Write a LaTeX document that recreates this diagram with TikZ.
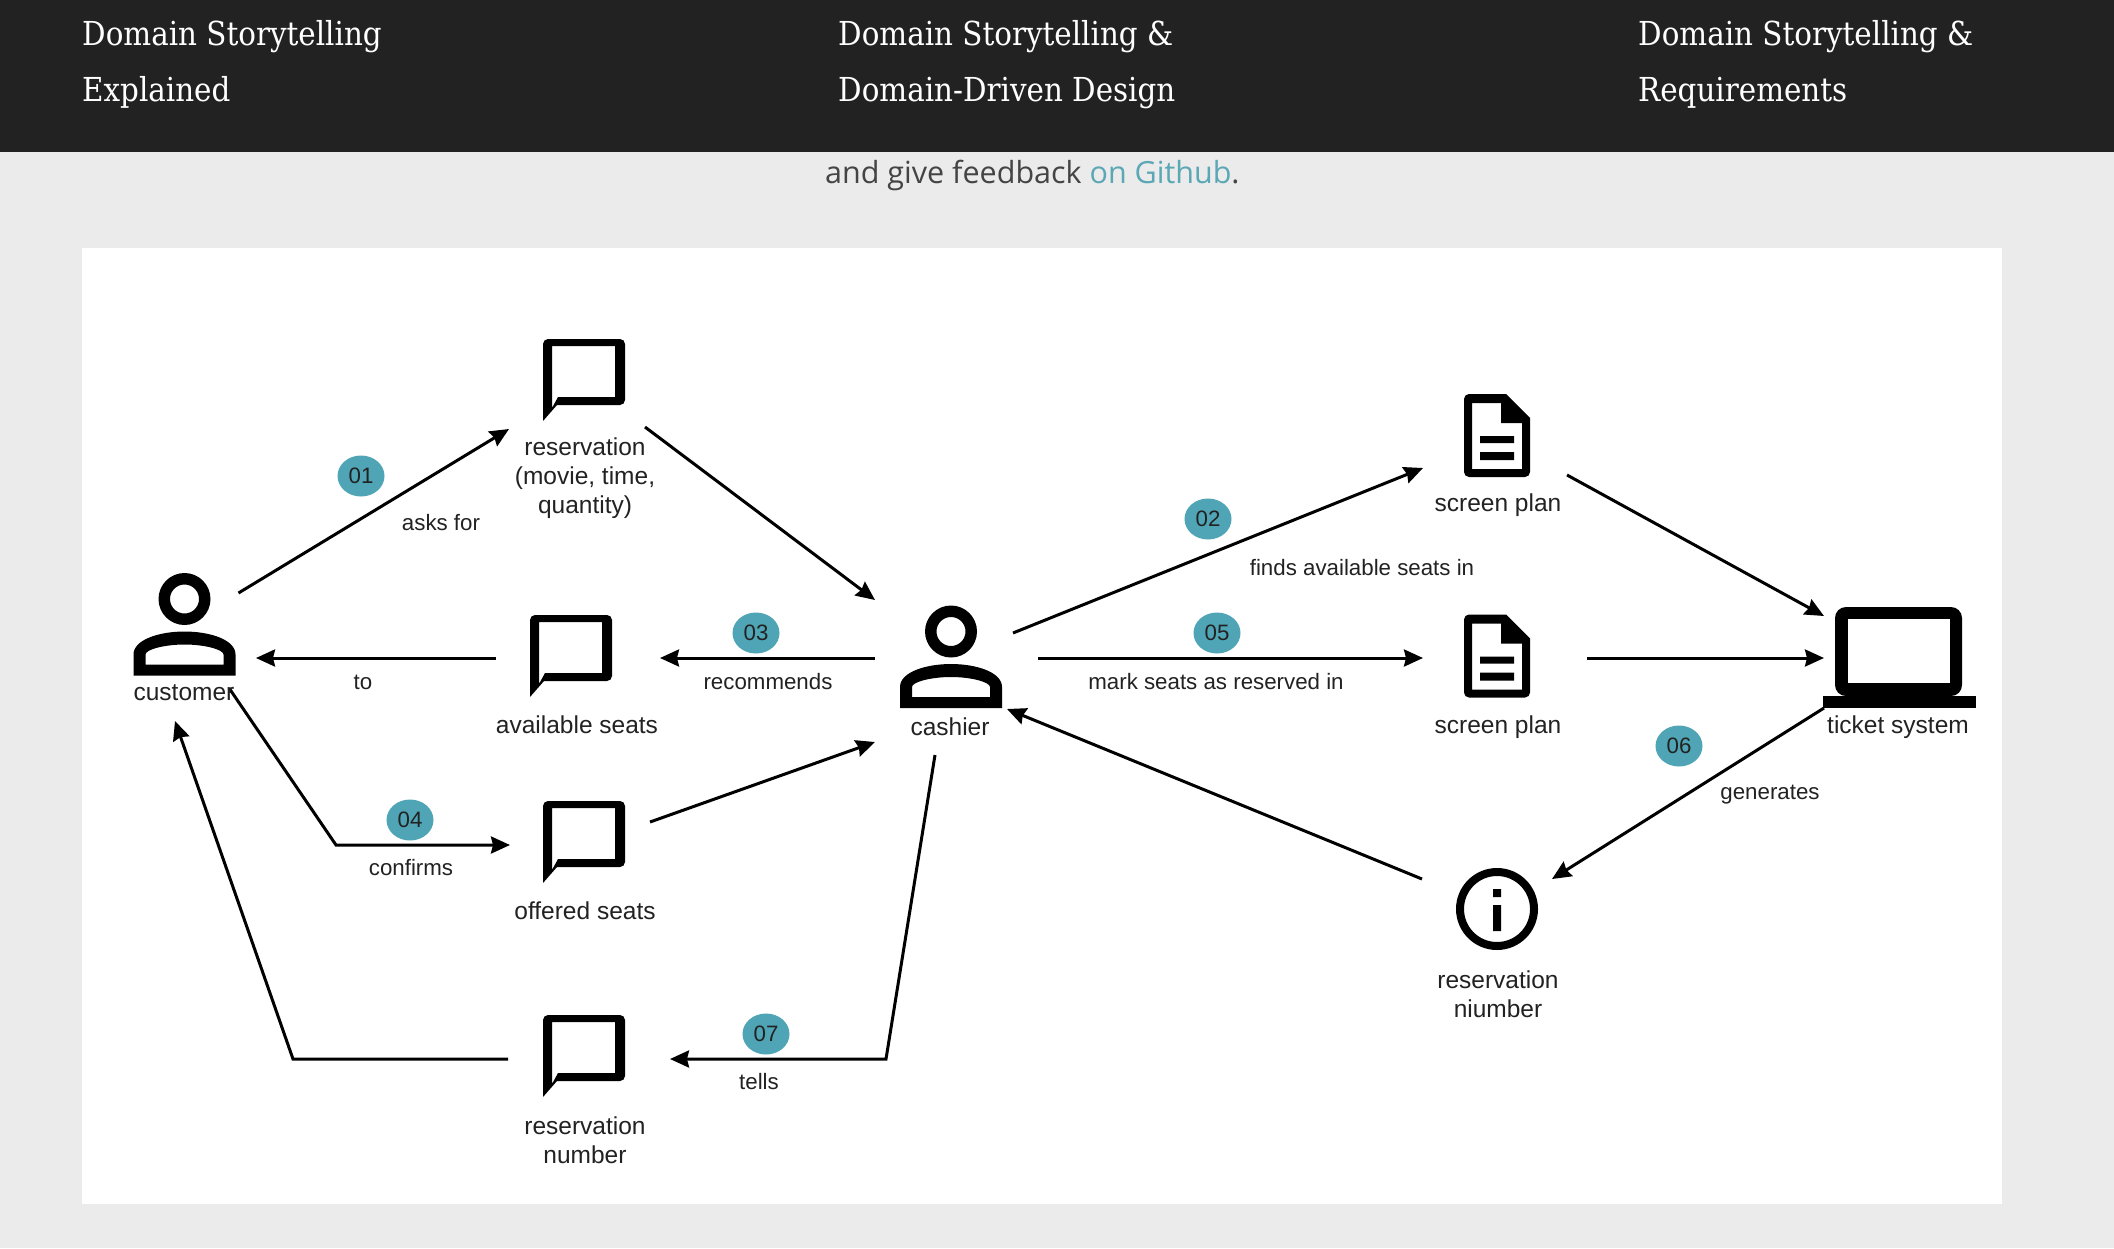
\documentclass[tikz,border=0pt]{standalone}
\usepackage{fontspec}
\usetikzlibrary{arrows.meta,shapes.geometric}
\setmainfont{Liberation Sans}
\newfontfamily\hdrfont[FakeStretch=0.89]{DejaVu Serif}
\newfontfamily\bodyfont{Open Sans}
\definecolor{headbg}{HTML}{222222}
\definecolor{pagebg}{HTML}{EBEBEB}
\definecolor{tealc}{HTML}{4FA5B5}
\definecolor{linkc}{HTML}{5AA7B5}
\definecolor{bodyc}{HTML}{444444}
\definecolor{labelc}{HTML}{222222}
\tikzset{
  x=1pt,y=-1pt,
  arr/.style={line width=3pt,black,line join=miter,-{Stealth[length=19pt,width=17pt,inset=2pt]}},
  iconbox/.style={rectangle,inner sep=0pt,outer sep=0pt},
  nlabel/.style={text=labelc,align=center,inner sep=0pt,font=\fontsize{24.5}{28.7}\selectfont},
  elabel/.style={text=labelc,align=center,inner sep=0pt,font=\fontsize{22.3}{26}\selectfont},
  badge/.style={ellipse,fill=tealc,minimum width=47pt,minimum height=41pt,inner sep=0pt,text=labelc,font=\fontsize{22.3}{26}\selectfont},
  hdr/.style={text=white,anchor=base west,inner sep=0pt,font=\hdrfont\fontsize{33}{40}\selectfont},
  msgicon/.pic={
    \fill[black,even odd rule]
      (-41,41) -- (-41,-36) arc[start angle=180,end angle=270,radius=5] -- (36,-41)
      arc[start angle=-90,end angle=0,radius=5] -- (41,20) arc[start angle=0,end angle=90,radius=5]
      -- (-27,25) -- cycle
      (-32,-34) -- (31,-34) -- (31,17) -- (-26,17) -- (-32,28) -- cycle;
  },
  docicon/.pic={
    \fill[black,even odd rule]
      (-33,-36.5) arc[start angle=180,end angle=270,radius=5] -- (9,-41.5) -- (33,-17.5)
      -- (33,36.5) arc[start angle=0,end angle=90,radius=5] -- (-28,41.5)
      arc[start angle=90,end angle=180,radius=5] -- cycle
      (-25,-32.5) -- (4,-32.5) -- (4,-12.5) -- (25,-12.5) -- (25,33.5) -- (-25,33.5) -- cycle;
    \fill[black] (-17,0.5) rectangle (17,7.5) (-17,16.5) rectangle (17,24.5);
  },
  laptopicon/.pic={
    \fill[black,even odd rule,rounded corners=11pt]
      (-64.5,-50.5) rectangle (62.5,38.5);
    \fill[white] (-51.5,-38.5) rectangle (50.5,25.5);
    \fill[black] (-76.5,38.5) rectangle (76.5,50.5);
  },
  personicon/.pic={
    \fill[black,even odd rule]
      (0,-25.5) circle[radius=26] (0,-25.5) circle[radius=14.5]
      (-51,51) -- (-51,30) .. controls (-51,15) and (-25,7) .. (0,7)
      .. controls (25,7) and (51,15) .. (51,30) -- (51,51) -- cycle
      (-39,40) -- (-39,30) .. controls (-39,25) and (-20,20) .. (0,20)
      .. controls (20,20) and (39,25) .. (39,30) -- (39,40) -- cycle;
  },
  infoicon/.pic={
    \draw[black,line width=8pt] (0,0) circle[radius=37];
    \fill[black] (-4,-20) rectangle (4,-12) (-4,-4) rectangle (4,22);
  },
}
\begin{document}
\begin{tikzpicture}
\useasboundingbox (0,0) rectangle (2114,1248);
\fill[pagebg] (0,0) rectangle (2114,1248);
\fill[headbg] (0,0) rectangle (2114,152);
\fill[white] (82,248) rectangle (2002,1204);

\node[hdr] (h1a) at (82,45) {Domain Storytelling};
\node[hdr] (h1b) at (82,101) {Explained};
\node[hdr] (h2a) at (838,45) {Domain Storytelling \&};
\node[hdr] (h2b) at (838,101) {Domain-Driven Design};
\node[hdr] (h3a) at (1638,45) {Domain Storytelling \&};
\node[hdr] (h3b) at (1638,101) {Requirements};
\node[text=bodyc,anchor=base west,inner sep=0pt,font=\bodyfont\fontsize{30.5}{36}\selectfont] (intro) at (825,183)
  {and give feedback \textcolor{linkc}{on Github}.};

% icon nodes
\node[iconbox,minimum width=103pt,minimum height=103pt] (cust) at (184.5,624.5) {};
\node[iconbox,minimum width=82pt,minimum height=82pt] (res) at (584,380) {};
\node[iconbox,minimum width=82pt,minimum height=82pt] (avail) at (571,656) {};
\node[iconbox,minimum width=82pt,minimum height=82pt] (offered) at (584,842) {};
\node[iconbox,minimum width=82pt,minimum height=82pt] (resnum) at (584,1056) {};
\node[iconbox,minimum width=103pt,minimum height=103pt] (cashier) at (951,657) {};
\node[iconbox,minimum width=66pt,minimum height=83pt] (doca) at (1497,435.5) {};
\node[iconbox,minimum width=66pt,minimum height=83pt] (docb) at (1497,656) {};
\node[iconbox,minimum width=153pt,minimum height=101pt] (laptop) at (1899.5,657.5) {};
\node[iconbox,minimum width=82pt,minimum height=82pt] (info) at (1497,909) {};

\path (cust.center) pic {personicon};
\path (cashier.center) pic {personicon};
\path (res.center) pic {msgicon};
\path (avail.center) pic {msgicon};
\path (offered.center) pic {msgicon};
\path (resnum.center) pic {msgicon};
\path (doca.center) pic {docicon};
\path (docb.center) pic {docicon};
\path (laptop.center) pic {laptopicon};
\path (info.center) pic {infoicon};

% connectors
\draw[arr] ([shift={(54,-31.5)}]cust.center) -- ([shift={(-75,49)}]res.center);
\draw[arr] ([shift={(61,47)}]res.center) -- ([shift={(-76,-57)}]cashier.center);
\draw[arr] ([shift={(-76,1)}]cashier.center) -- ([shift={(89,2)}]avail.center);
\draw[arr] ([shift={(-75,2)}]avail.center) -- ([shift={(71.5,33.5)}]cust.center);
\draw[arr] ([shift={(44.5,63.5)}]cust.center) -- ([shift={(-248,3)}]offered.center) -- ([shift={(-74,3)}]offered.center);
\draw[arr] ([shift={(66,-20)}]offered.center) -- ([shift={(-76,85)}]cashier.center);
\draw[arr] ([shift={(-16,98)}]cashier.center) -- ([shift={(302,3)}]resnum.center) -- ([shift={(86,3)}]resnum.center);
\draw[arr] ([shift={(-76,3)}]resnum.center) -- ([shift={(-291,3)}]resnum.center) -- ([shift={(-9.5,96.5)}]cust.center);
\draw[arr] ([shift={(62,-24)}]cashier.center) -- ([shift={(-74,32.5)}]doca.center);
\draw[arr] ([shift={(87,1)}]cashier.center) -- ([shift={(-74,2)}]docb.center);
\draw[arr] ([shift={(70,39.5)}]doca.center) -- ([shift={(-75.5,-41.5)}]laptop.center);
\draw[arr] ([shift={(90,2)}]docb.center) -- ([shift={(-75.5,0.5)}]laptop.center);
\draw[arr] ([shift={(-75.5,50.5)}]laptop.center) -- ([shift={(55,-30)}]info.center);
\draw[arr] ([shift={(-75,-30)}]info.center) -- ([shift={(56,52)}]cashier.center);

% node labels
\node[nlabel] (lres) at (585,478) {reservation\\(movie, time,\\quantity)};
\node[nlabel] (lcust) at (184,693) {customer};
\node[nlabel] (lavail) at (577,725) {available seats};
\node[nlabel] (loff) at (585,911) {offered seats};
\node[nlabel] (lnum) at (585,1140) {reservation\\number};
\node[nlabel] (lcash) at (950,727) {cashier};
\node[nlabel] (ldoca) at (1498,505) {screen plan};
\node[nlabel] (ldocb) at (1498,727) {screen plan};
\node[nlabel] (llap) at (1898,727) {ticket system};
\node[nlabel] (linfo) at (1498,994) {reservation\\niumber};

% edge labels
\node[elabel] (e1) at (441,523) {asks for};
\node[elabel] (e2) at (363,682) {to};
\node[elabel] (e3) at (768,682) {recommends};
\node[elabel] (e4) at (411,868) {confirms};
\node[elabel] (e5) at (1362,568) {finds available seats in};
\node[elabel] (e6) at (1216,682) {mark seats as reserved in};
\node[elabel] (e7) at (1770,795) {generates};
\node[elabel] (e8) at (759,1082) {tells};

% badges
\node[badge] (b1) at (361,476) {01};
\node[badge] (b2) at (1208,519) {02};
\node[badge] (b3) at (756,633) {03};
\node[badge] (b4) at (410,820) {04};
\node[badge] (b5) at (1217,633) {05};
\node[badge] (b6) at (1679,746) {06};
\node[badge] (b7) at (766,1034) {07};
\end{tikzpicture}
\end{document}
